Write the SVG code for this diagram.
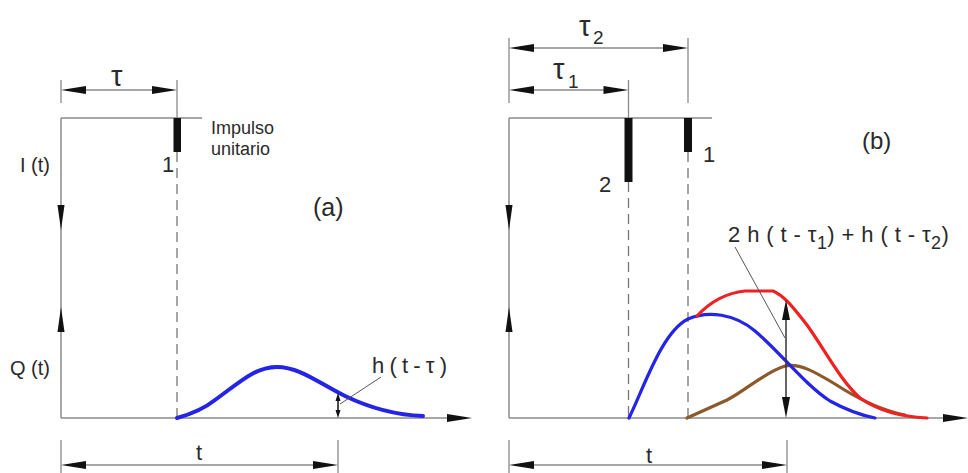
<svg xmlns="http://www.w3.org/2000/svg" width="968" height="473" viewBox="0 0 968 473">
<style>
  .ax{stroke:#8a8a8a;stroke-width:1.5;fill:none}
  .dim{stroke:#8a8a8a;stroke-width:1.3;fill:none}
  .dash{stroke:#777;stroke-width:1.3;fill:none;stroke-dasharray:10 6}
  .bar{fill:#111}
  .ah{fill:#111}
  .txt{font-family:"Liberation Sans",Arial,sans-serif;fill:#2a2a2a}
  .blue{stroke:#2424e6;fill:none;stroke-linecap:round;stroke-linejoin:round}
  .red{stroke:#ee2222;stroke-width:3.2;fill:none;stroke-linecap:round;stroke-linejoin:round}
  .brown{stroke:#8b5a2b;stroke-width:3.2;fill:none;stroke-linecap:round;stroke-linejoin:round}
  .lead{stroke:#555;stroke-width:1;fill:none}
</style>
<rect width="968" height="473" fill="#fff"/>

<g id="panel-a">
  <g id="a-axes">
    <line class="ax" x1="61" y1="118" x2="61" y2="418"/>
    <line class="ax" x1="61" y1="118" x2="202" y2="118"/>
    <line class="ax" x1="61" y1="418" x2="450" y2="418"/>
    <polygon class="ah" points="472,418 447,414 447,422"/>
    <polygon class="ah" points="61,230 57.5,205 64.5,205"/>
    <polygon class="ah" points="61,307 57.5,332 64.5,332"/>
  </g>
  <g id="a-impulse">
    <rect class="bar" x="173.5" y="118" width="7.5" height="34"/>
    <line class="dash" x1="177" y1="152" x2="177" y2="418"/>
  </g>
  <g id="a-tau-dim">
    <line class="dim" x1="61" y1="80" x2="61" y2="103"/>
    <line class="dim" x1="177" y1="80" x2="177" y2="118"/>
    <line class="dim" x1="80" y1="90" x2="158" y2="90"/>
    <polygon class="ah" points="61,90 86,86 86,94"/>
    <polygon class="ah" points="177,90 152,86 152,94"/>
  </g>
  <g id="a-t-dim">
    <line class="dim" x1="61" y1="440" x2="61" y2="473"/>
    <line class="dim" x1="338" y1="440" x2="338" y2="473"/>
    <line class="dim" x1="80" y1="465" x2="320" y2="465"/>
    <polygon class="ah" points="61,465 86,461 86,469"/>
    <polygon class="ah" points="338,465 313,461 313,469"/>
  </g>
  <g id="a-curve">
    <path class="blue" stroke-width="4" d="M177,418 C195,413 205,408 215,400 C240,382 255,367 277,367 C300,367 320,384 345,396 C370,408 395,415 423,416"/>
  </g>
  <g id="a-h-indicator">
    <line x1="338" y1="398" x2="338" y2="414" stroke="#111" stroke-width="1.5"/>
    <polygon class="ah" points="338,393 335.5,401 340.5,401"/>
    <polygon class="ah" points="338,418 335.5,410 340.5,410"/>
    <line class="lead" x1="340" y1="404" x2="381" y2="377"/>
  </g>
  <g id="a-labels" class="txt">
    <text x="111" y="86" font-size="29">τ</text>
    <text x="162" y="172" font-size="22">1</text>
    <text x="211" y="134" font-size="18">Impulso</text>
    <text x="211" y="155" font-size="18">unitario</text>
    <text x="20" y="172" font-size="20">I (t)</text>
    <text x="10" y="375" font-size="20">Q (t)</text>
    <text x="313" y="216" font-size="25">(a)</text>
    <text x="372" y="373" font-size="22" textLength="75" lengthAdjust="spacing">h ( t - τ )</text>
    <text x="196" y="460" font-size="22">t</text>
  </g>
</g>

<g id="panel-b">
  <g id="b-axes">
    <line class="ax" x1="509" y1="118" x2="509" y2="418"/>
    <line class="ax" x1="509" y1="118" x2="712" y2="118"/>
    <line class="ax" x1="509" y1="418" x2="946" y2="418"/>
    <polygon class="ah" points="968,418 943,414 943,422"/>
    <polygon class="ah" points="509,230 505.5,205 512.5,205"/>
    <polygon class="ah" points="509,307 505.5,332 512.5,332"/>
  </g>
  <g id="b-impulses">
    <rect class="bar" x="624.5" y="118" width="8" height="64"/>
    <rect class="bar" x="684" y="118" width="8" height="34"/>
    <line class="dash" x1="628.5" y1="182" x2="628.5" y2="418"/>
    <line class="dash" x1="688" y1="152" x2="688" y2="418"/>
  </g>
  <g id="b-tau-dims">
    <line class="dim" x1="509" y1="38" x2="509" y2="103"/>
    <line class="dim" x1="688" y1="38" x2="688" y2="103"/>
    <line class="dim" x1="628.5" y1="80" x2="628.5" y2="118"/>
    <line class="dim" x1="530" y1="48" x2="668" y2="48"/>
    <polygon class="ah" points="509,48 534,44 534,52"/>
    <polygon class="ah" points="688,48 663,44 663,52"/>
    <line class="dim" x1="530" y1="90" x2="608" y2="90"/>
    <polygon class="ah" points="509,90 534,86 534,94"/>
    <polygon class="ah" points="628.5,90 603.5,86 603.5,94"/>
  </g>
  <g id="b-t-dim">
    <line class="dim" x1="509" y1="440" x2="509" y2="473"/>
    <line class="dim" x1="787" y1="440" x2="787" y2="473"/>
    <line class="dim" x1="530" y1="465" x2="768" y2="465"/>
    <polygon class="ah" points="509,465 534,461 534,469"/>
    <polygon class="ah" points="787,465 762,461 762,469"/>
  </g>
  <g id="b-curves">
    <path class="brown" d="M687,418 L727,400 C745,391 765,372 785,366 C800,363 815,372 835,384 C855,397 880,410 905,415"/>
    <path class="blue" stroke-width="3.2" d="M629,418 C645,385 662,332 688,319 C708,310 735,314 755,331 C780,352 805,385 830,401 C850,412 865,416 875,418"/>
    <path class="red" d="M697,316 C710,302 725,293 745,291 L773,291 C785,296 795,310 807,325 C825,350 840,380 860,398 C880,412 905,417 927,418"/>
  </g>
  <g id="b-h-indicator">
    <line x1="786" y1="310" x2="786" y2="408" stroke="#333" stroke-width="1.5"/>
    <polygon class="ah" points="786,300 782,320 790,320"/>
    <polygon class="ah" points="786,418 782,397 790,397"/>
    <line class="lead" x1="735" y1="247" x2="785" y2="338"/>
  </g>
  <g id="b-labels" class="txt">
    <text x="579" y="36" font-size="29">τ</text>
    <text x="593" y="44" font-size="19">2</text>
    <text x="553" y="79" font-size="29">τ</text>
    <text x="568" y="88" font-size="19">1</text>
    <text x="599" y="192" font-size="22">2</text>
    <text x="703" y="162" font-size="22">1</text>
    <text x="862" y="149" font-size="24">(b)</text>
    <text x="728" y="242" font-size="22" letter-spacing="0.4">2 h ( t - τ<tspan font-size="18" dy="7">1</tspan><tspan dy="-7">) + h ( t - τ</tspan><tspan font-size="18" dy="7">2</tspan><tspan dy="-7">)</tspan></text>
    <text x="646" y="463" font-size="22">t</text>
  </g>
</g>
</svg>
